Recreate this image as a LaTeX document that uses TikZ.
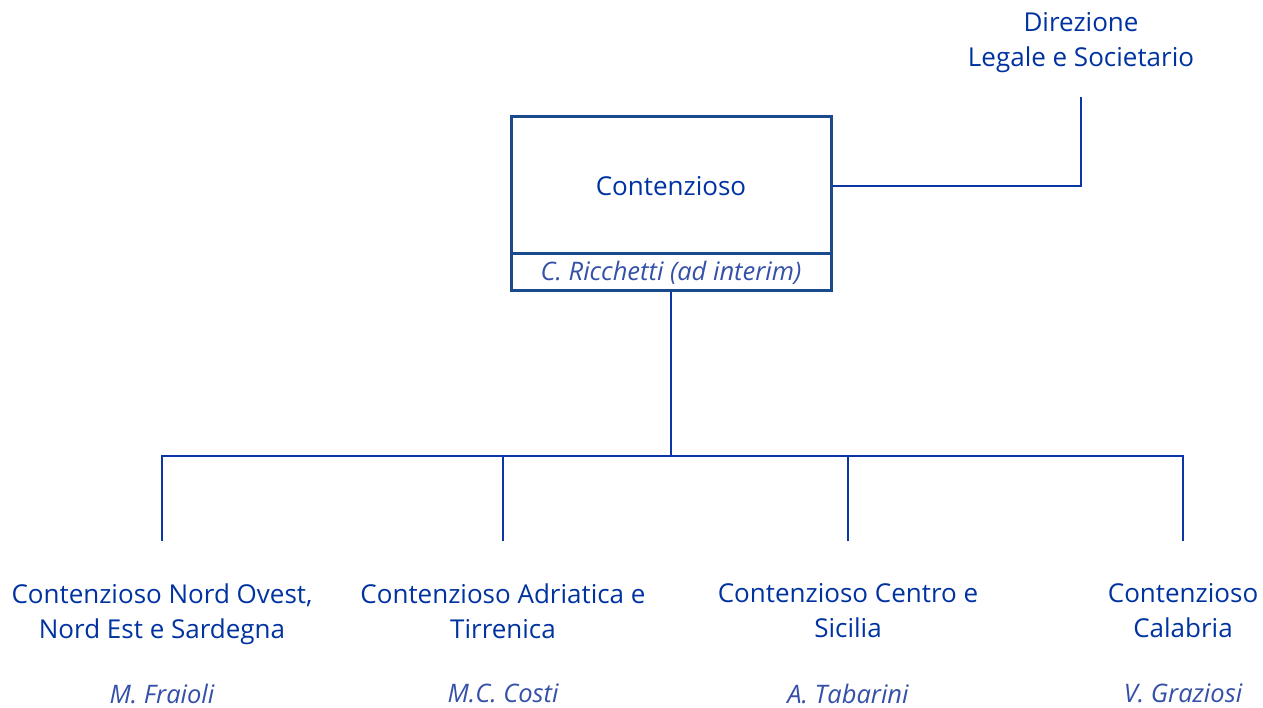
\documentclass[tikz,border=0pt]{standalone}
\usepackage{fontspec}
\setmainfont{Open Sans}
\definecolor{navy}{HTML}{1A4A8C}
\definecolor{txt}{HTML}{0033A0}
\definecolor{lne}{HTML}{0A36A6}
\definecolor{nm}{HTML}{3550A8}
\begin{document}
\begin{tikzpicture}[x=1pt,y=-1pt,
  unit/.style={align=center,text=txt,font=\fontsize{26}{35}\selectfont,inner sep=0pt},
  person/.style={text=nm,font=\fontsize{25.5}{30}\selectfont\itshape,inner sep=0pt},
  conn/.style={draw=lne,line width=2pt},
  boxline/.style={draw=navy,line width=3pt}]
\useasboundingbox (0,0) rectangle (1263,708);
\node[boxline,minimum width=320pt,minimum height=174pt,inner sep=0pt] (top) at (671,204) {};
\draw[boxline] (top.west |- 0,254) -- (top.east |- 0,254);
\node[unit] (topt) at (671,186) {Contenzioso};
\node[person] (subt) at (671,273) {C. Ricchetti (ad interim)};
\node[unit] (dir) at (1081,43) {Direzione\\Legale e Societario};
\coordinate (dirc) at (1081,97);
\draw[conn] (top.east |- 0,186) -| (dirc);
\coordinate (hub) at (671,456);
\draw[conn,line width=2.8pt] (top.south) -- (hub);
\node[unit] (a) at (162,614) {Contenzioso Nord Ovest,\\Nord Est e Sardegna};
\node[unit] (b) at (503,611) {Contenzioso Adriatica e\\Tirrenica};
\node[unit] (c) at (848,611) {Contenzioso Centro e\\Sicilia};
\node[unit] (d) at (1183,611) {Contenzioso\\Calabria};
\node[person] (an) at (162,693.5) {M. Fraioli};
\node[person] (bn) at (503,693.5) {M.C. Costi};
\node[person] (cn) at (848,693.5) {A. Tabarini};
\node[person] (dn) at (1183,693.5) {V. Graziosi};
\coordinate (at) at (162,541);
\coordinate (bt) at (503,541);
\coordinate (ct) at (848,541);
\coordinate (dt) at (1183,541);
\draw[conn] (at) |- (hub) -| (dt);
\draw[conn] (bt) -- (bt |- hub);
\draw[conn] (ct) -- (ct |- hub);
\end{tikzpicture}
\end{document}
